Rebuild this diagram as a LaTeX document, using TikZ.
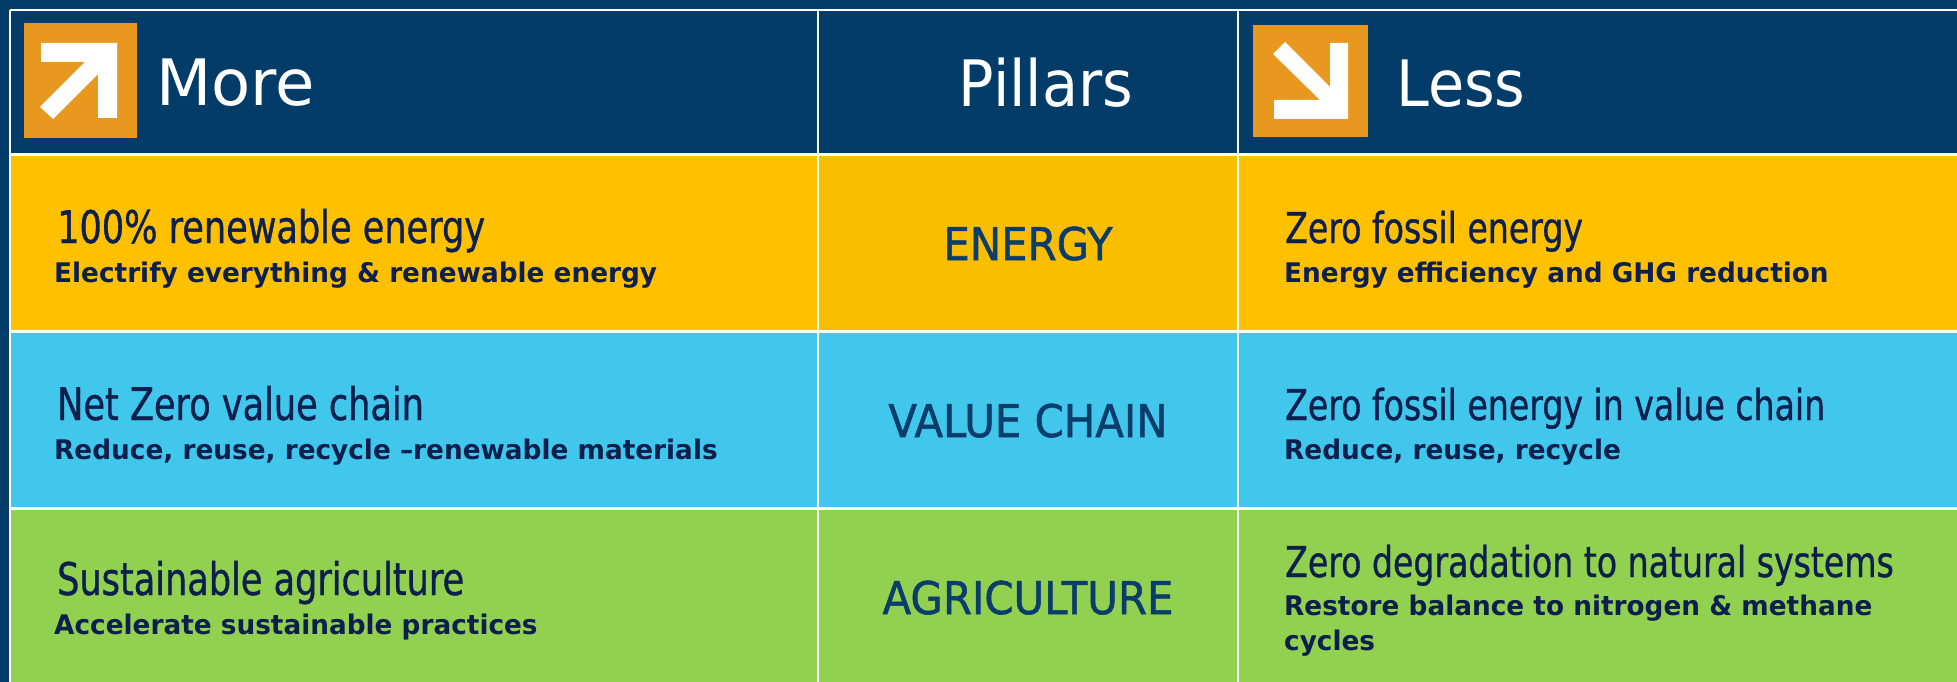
\documentclass[tikz,border=0pt]{standalone}
\usepackage{fontspec}
\setmainfont{DejaVu Sans}
\newfontfamily\hdrfont[FakeStretch=0.92]{DejaVu Sans}
\newfontfamily\morefont[FakeStretch=1.0]{DejaVu Sans}
\newfontfamily\titfont[FakeStretch=0.78,FakeBold=0.8]{DejaVu Sans}
\newfontfamily\subfont[FakeStretch=0.975]{DejaVu Sans Bold}
\newfontfamily\pilfont[FakeStretch=0.93,FakeBold=1.2]{DejaVu Sans}
\definecolor{hdrblue}{HTML}{033C69}
\definecolor{yelcell}{HTML}{FFC000}
\definecolor{yelmid}{HTML}{F9BE00}
\definecolor{cyancell}{HTML}{41C7EC}
\definecolor{grncell}{HTML}{92D050}
\definecolor{iconorange}{HTML}{E8981F}
\definecolor{navytext}{HTML}{0D1F4C}
\definecolor{piltext}{HTML}{0A3D6B}
\begin{document}
\begin{tikzpicture}[x=1pt,y=-1pt,
  gridline/.style={draw=white,line width=2.6pt},
  hdrtext/.style={text=white,font=\hdrfont\fontsize{64}{70}\selectfont,inner sep=0pt},
  tittext/.style={text=navytext,font=\titfont\fontsize{45}{50}\selectfont,inner sep=0pt,anchor=base west},
  rtittext/.style={text=navytext,font=\titfont\fontsize{42.5}{48}\selectfont,inner sep=0pt,anchor=base west},
  subtext/.style={text=navytext,font=\subfont\fontsize{27}{35}\selectfont,inner sep=0pt,anchor=base west},
  piltext/.style={text=piltext,font=\pilfont\fontsize{45}{50}\selectfont,inner sep=0pt,anchor=base},
  iconbox/.style={fill=iconorange},
  arrowshape/.style={fill=white}]
\useasboundingbox (0,0) rectangle (1957,682);
% background and cells
\fill[hdrblue] (0,0) rectangle (1957,682);
\fill[yelcell] (10,154) rectangle (1957,332);
\fill[yelmid] (818,154) rectangle (1238,332);
\fill[cyancell] (10,332) rectangle (1957,509);
\fill[grncell] (10,509) rectangle (1957,682);
% grid
\draw[gridline] (10,10) -- (1957,10);
\draw[gridline] (10,10) -- (10,682);
\draw[gridline] (10,154.5) -- (1957,154.5);
\draw[gridline] (10,331.5) -- (1957,331.5);
\draw[gridline] (10,508.5) -- (1957,508.5);
\draw[gridline] (818,10) -- (818,682);
\draw[gridline] (1238,10) -- (1238,682);
% icons
\fill[iconbox] (24,23) rectangle (137,138);
\fill[arrowshape] (41,43) -- (117,43) -- (117,118) -- (98,118) -- (98,74) -- (53,119) -- (40,107) -- (85,62) -- (41,62) -- cycle;
\fill[iconbox] (1253,25) rectangle (1368,137);
\fill[arrowshape] (1274,119) -- (1348,119) -- (1348,43) -- (1330,43) -- (1330,87) -- (1285,42) -- (1273,54) -- (1320,100) -- (1274,100) -- cycle;
% header
\node[hdrtext,font=\morefont\fontsize{64}{70}\selectfont,anchor=base west] (more) at (156,106) {More};
\node[hdrtext,anchor=base] (pillars) at (1046,107) {Pillars};
\node[hdrtext,anchor=base west] (less) at (1396,107) {Less};
% row 1
\node[tittext] (t1l) at (57,243) {100\% renewable energy};
\node[subtext] (s1l) at (54,282) {Electrify everything \& renewable energy};
\node[piltext] (p1) at (1028,260) {ENERGY};
\node[rtittext] (t1r) at (1285,243) {Zero fossil energy};
\node[subtext] (s1r) at (1284,282) {Energy efficiency and GHG reduction};
% row 2
\node[tittext] (t2l) at (57,420) {Net Zero value chain};
\node[subtext] (s2l) at (54,459) {Reduce, reuse, recycle –renewable materials};
\node[piltext] (p2) at (1028,437) {VALUE CHAIN};
\node[rtittext] (t2r) at (1285,420) {Zero fossil energy in value chain};
\node[subtext] (s2r) at (1284,459) {Reduce, reuse, recycle};
% row 3
\node[tittext] (t3l) at (57,595) {Sustainable agriculture};
\node[subtext] (s3l) at (54,634) {Accelerate sustainable practices};
\node[piltext] (p3) at (1028,614) {AGRICULTURE};
\node[rtittext] (t3r) at (1285,577) {Zero degradation to natural systems};
\node[subtext] (s3r) at (1284,615) {\vtop{\baselineskip=35pt\hbox{Restore balance to nitrogen \& methane}\hbox{cycles}}};
\end{tikzpicture}
\end{document}
